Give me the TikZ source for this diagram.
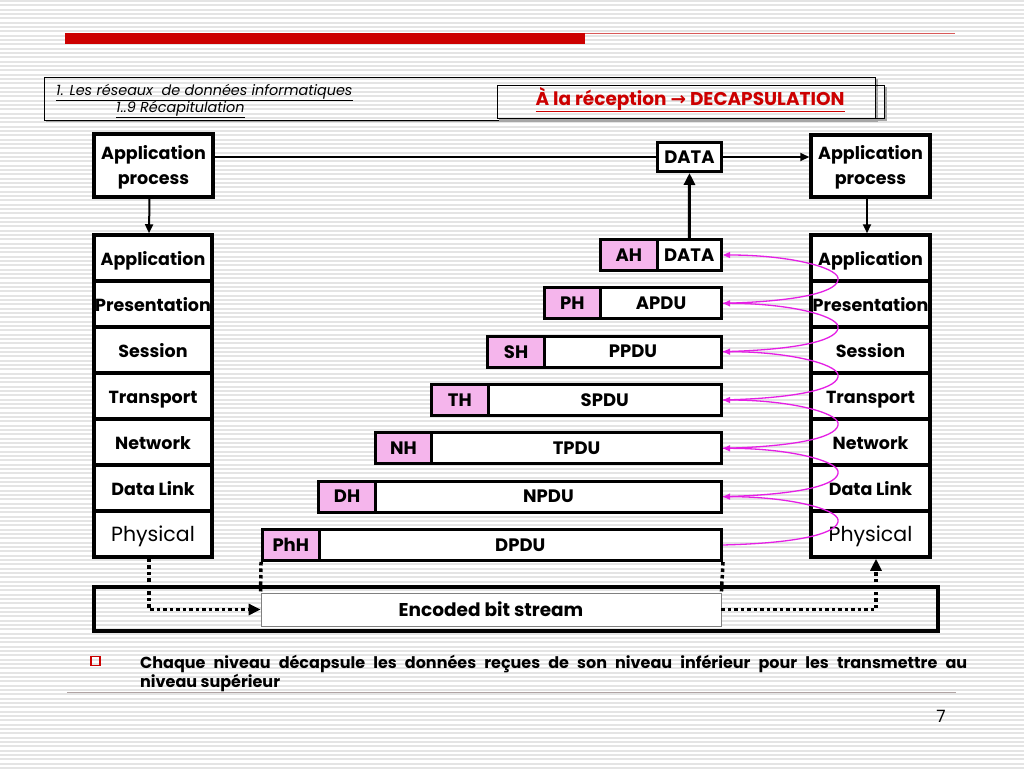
\documentclass[tikz,border=0pt]{standalone}
\usepackage{fontspec}
\setmainfont{Poppins}
\newfontfamily\symf{DejaVu Sans}
\usetikzlibrary{arrows.meta,calc}
\definecolor{rbar}{HTML}{CC0000}
\definecolor{rline}{HTML}{D85A5A}
\definecolor{pinkf}{HTML}{F5B5EC}
\definecolor{mag}{HTML}{E51FE5}
\definecolor{stripe}{HTML}{E4E4E4}
\definecolor{rule}{HTML}{B0A4A4}
\begin{document}
\begin{tikzpicture}[x=1pt,y=-1pt,
  cell/.style={draw, line width=3.5pt, fill=white, inner sep=0pt, text height=17pt, text depth=3pt, font=\fontsize{17.5}{17.5}\selectfont\bfseries},
  pk/.style={draw, line width=3pt, inner sep=0pt, minimum height=31pt, font=\fontsize{18}{18}\selectfont\bfseries},
  tri/.style={-{Triangle[length=9pt,width=8pt]}},
  dotline/.style={line width=3.5pt, dash pattern=on 3.5pt off 3pt},
  curv/.style={mag, line width=1.3pt, -{Triangle[length=7pt,width=6pt]}},
  shadow/.style={gray!70, line width=2pt},
  hbox/.style={draw, line width=1pt, inner sep=0pt},
  aptext/.style={inner sep=0pt, align=center, font=\fontsize{17.5}{25}\selectfont\bfseries}
]
\useasboundingbox (0,0) rectangle (1024,768);
\fill[white] (0,0) rectangle (1024,768);
\foreach \i in {0,...,177}{
  \fill[stripe] (0,\i*4.333) rectangle (1024,\i*4.333+2);
}
% top bar
\fill[rbar] (65,33) rectangle (585,44);
\draw[rline, line width=1.3pt] (585,33.5) -- (955,33.5);
% header boxes
\draw[shadow] (46,121) -- (876.5,121) -- (876.5,79);
\node[hbox, minimum width=831pt, minimum height=43pt] (hl) at (459.5,98.5) {};
\draw[shadow] (499,119.5) -- (885.5,119.5) -- (885.5,87);
\node[hbox, minimum width=387pt, minimum height=33pt] (hr) at (690.5,101.5) {};
\node[anchor=base west, inner sep=0pt, font=\fontsize{14.4}{14.4}\selectfont\itshape] (t1) at (56,95) {\underline{1. Les réseaux\ \ de données informatiques}};
\node[anchor=base west, inner sep=0pt, font=\fontsize{14.4}{14.4}\selectfont\itshape] (t2) at (116,112) {\underline{1..9 Récapitulation}};
\node[anchor=base, inner sep=0pt, text=rbar, font=\fontsize{18.5}{18.5}\selectfont\bfseries] (t3) at (690,105) {\underline{À la réception {\symf →} DECAPSULATION}};
% application process boxes
\node[draw, line width=3.5pt, fill=white, inner sep=0pt, minimum width=119pt, minimum height=63pt] (lap) at (153.5,165.5) {};
\node[aptext] (lapt) at (153.5,167.5) {Application\\process};
\node[draw, line width=3.5pt, fill=white, inner sep=0pt, minimum width=119pt, minimum height=62pt] (rap) at (870.5,166) {};
\node[aptext] (rapt) at (870.5,167.5) {Application\\process};
\node[draw, line width=3pt, fill=white, inner sep=0pt, minimum width=64pt, minimum height=29pt, font=\fontsize{18}{18}\selectfont\bfseries] (data) at (689.5,157) {DATA};
% stacks
\foreach \t [count=\i from 0] in {Application,{\makebox[0pt]{Presentation}},Session,Transport,Network,Data Link}{
  \node[cell, minimum width=118pt, minimum height=46pt] (L\i) at (153,258+46*\i) {\t};
  \node[cell, minimum width=119pt, minimum height=46pt] (R\i) at (870.5,258+46*\i) {\t};
}
\node[cell, minimum width=118pt, minimum height=46pt, font=\fontsize{20.5}{20.5}\selectfont] (L6) at (153,534) {Physical};
\node[cell, minimum width=119pt, minimum height=46pt, font=\fontsize{20.5}{20.5}\selectfont] (R6) at (870.5,534) {Physical};
% packets
\foreach \h/\b/\k in {AH/DATA/0,PH/APDU/1,SH/PPDU/2,TH/SPDU/3,NH/TPDU/4,DH/NPDU/5,PhH/DPDU/6}{
  \pgfmathsetmacro\yc{255+48.33*\k}
  \pgfmathsetmacro\xl{599-56.33*\k}
  \pgfmathsetmacro\hx{\xl+29.75}
  \pgfmathsetmacro\bw{721.5-\xl-58}
  \pgfmathsetmacro\bx{(\xl+58+721.5)/2}
  \node[pk, fill=white, minimum width=\bw pt] (b\k) at (\bx,\yc) {\b};
  \node[pk, fill=pinkf, minimum width=56.5pt] (h\k) at (\hx,\yc) {\h};
}
% bit stream
\node[draw, line width=3.5pt, inner sep=0pt, minimum width=844pt, minimum height=44pt] (bs) at (516,609) {};
\node[draw=gray, line width=0.8pt, fill=white, inner sep=0pt, minimum width=460pt, minimum height=33pt, font=\fontsize{18.5}{18.5}\selectfont\bfseries] (enc) at (491,609.5) {Encoded bit stream};
% connectors
\draw[line width=2pt] (lap.east |- data.west) -- (data.west);
\draw[line width=2pt, tri] (data.east) -- (rap.west |- data.east);
\draw[line width=2pt, tri] ([xshift=-4pt]lap.south) -- ([xshift=-4pt]L0.north);
\draw[line width=2pt, tri] ([xshift=-3.5pt]rap.south) -- ([xshift=-3.5pt]R0.north);
\draw[line width=3pt, -{Triangle[length=12pt,width=11pt]}] (b0.north) -- (data.south);
\draw[dotline, -{Triangle[length=12pt,width=11pt]}] ([xshift=-4pt]L6.south) |- (enc.west);
\draw[dotline] (h6.south west) -- (enc.north west);
\draw[dotline] (b6.south east) -- (enc.north east);
\draw[dotline, -{Triangle[length=12pt,width=11pt]}] (enc.east) -| ([xshift=5.5pt]R6.south);
% magenta curves
\foreach \k in {0,...,5}{
  \pgfmathtruncatemacro\n{\k+1}
  \pgfmathsetmacro\yt{255+48.33*\k+23}
  \coordinate (tp\k) at (838,\yt);
  \draw[curv] (b\n.east) .. controls +(80,-2) and +(2,13) .. (tp\k) .. controls +(-2,-11) and +(65,0) .. (b\k.east);
}
% bullet text
\node[draw=rbar, line width=1.2pt, minimum size=9pt, inner sep=0pt] (bul) at (95.5,661) {};
\node[anchor=north west, inner sep=0pt, text width=827pt, align=justify, font=\fontsize{16}{15}\selectfont\bfseries] (txt) at (140,655) {Chaque niveau décapsule les données reçues de son niveau inférieur pour les transmettre au\linebreak niveau supérieur};
\draw[rule, line width=1pt] (67,692) -- (956,692);
\node[inner sep=0pt, font=\fontsize{17}{17}\selectfont] (pg) at (941,716) {7};
\end{tikzpicture}
\end{document}
